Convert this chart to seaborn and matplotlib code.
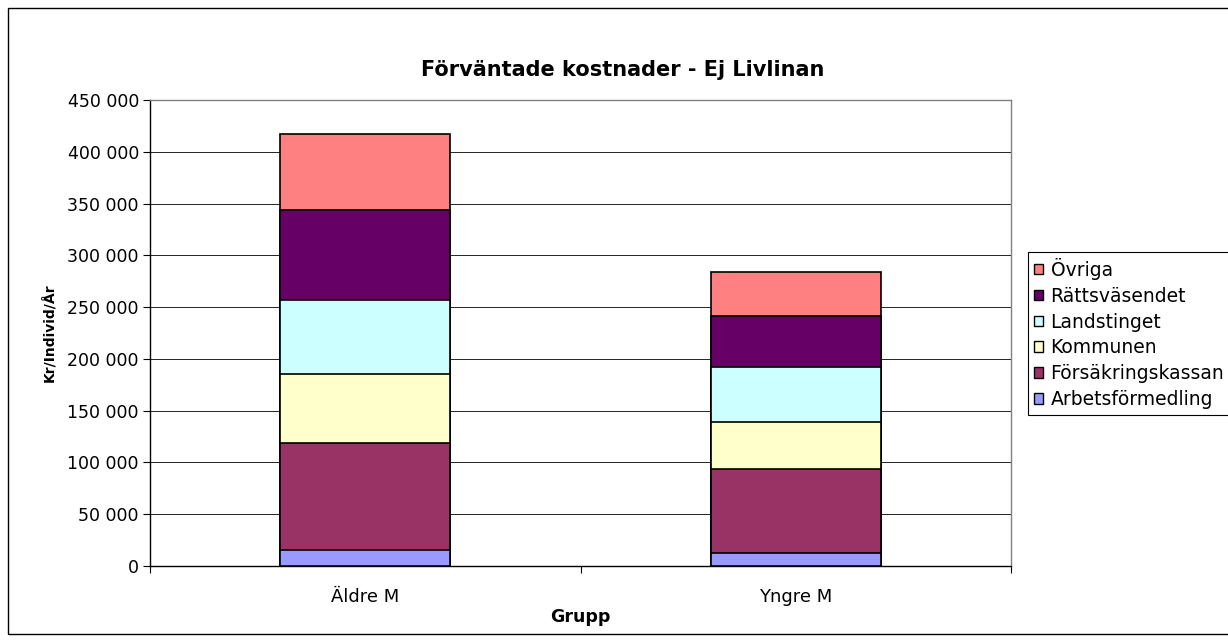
import matplotlib
matplotlib.use("Agg")
import matplotlib.pyplot as plt
from matplotlib.patches import Patch, Rectangle
from matplotlib.ticker import FuncFormatter, FixedLocator
import seaborn as sns
import numpy as np

# Expected costs per individual and year (kr), by group and payer
groups = ["Äldre M", "Yngre M"]
payers = ["Arbetsförmedling", "Försäkringskassan", "Kommunen",
          "Landstinget", "Rättsväsendet", "Övriga"]
arbetsformedling = [15700, 12300]
forsakringskassan = [102800, 81700]
kommunen = [66600, 44800]
landstinget = [71800, 53700]
rattsvasendet = [86900, 48900]
ovriga = [73100, 42500]
colors = ["#9999FF", "#993366", "#FFFFCC", "#CCFFFF", "#660066", "#FF8080"]
yticks = list(range(0, 450001, 50000))

series = [arbetsformedling, forsakringskassan, kommunen,
          landstinget, rattsvasendet, ovriga]

sns.set_theme(style="white")
plt.rcParams["font.family"] = ["DejaVu Sans"]
plt.rcParams.update({"text.color": "black", "axes.labelcolor": "black",
                     "xtick.color": "black", "ytick.color": "black"})

W, H = 1228, 642
fig = plt.figure(figsize=(W / 100, H / 100), dpi=100)
ax = fig.add_axes([150 / W, 1 - 566 / H, (1011 - 150) / W, (566 - 100) / H])

# Stacked bars: draw cumulative totals from the top layer downwards
cum = np.cumsum(np.array(series), axis=0)
for i in range(len(series) - 1, -1, -1):
    sns.barplot(x=groups, y=cum[i], color=colors[i], saturation=1,
                width=0.396, edgecolor="black", linewidth=1.2, ax=ax,
                zorder=3)

ax.set_xlim(-0.5, 1.5)
ax.set_ylim(0, 450000)
ax.yaxis.set_major_locator(FixedLocator(yticks))
ax.yaxis.set_major_formatter(
    FuncFormatter(lambda v, p: f"{int(v):,}".replace(",", " ")))
ax.grid(axis="y", color="black", linewidth=0.6, zorder=0)
ax.set_axisbelow(True)

# Category ticks sit between the groups
ax.set_xticks([0, 1])
ax.set_xticks([-0.5, 0.5, 1.5], minor=True)
ax.tick_params(axis="x", which="major", length=0, pad=16, labelsize=13)
ax.tick_params(axis="x", which="minor", length=5, width=0.8,
               color="black", direction="out", bottom=True)
ax.tick_params(axis="y", which="major", length=5, width=0.8,
               color="black", direction="out", left=True, pad=3,
               labelsize=12.5)

for side in ["left", "bottom"]:
    ax.spines[side].set_color("black")
    ax.spines[side].set_linewidth(1.0)
for side in ["right", "top"]:
    ax.spines[side].set_color("#808080")
    ax.spines[side].set_linewidth(1.0)

ax.set_xlabel("Grupp", fontsize=12.5, fontweight="bold", labelpad=1)
ax.set_ylabel("Kr/Individ/År", fontsize=10, fontweight="bold", labelpad=8)

fig.text(623 / W, 1 - 70 / H, "Förväntade kostnader - Ej Livlinan",
         ha="center", va="center", fontsize=15, fontweight="bold")

handles = [Patch(facecolor=c, edgecolor="black", linewidth=1.0)
           for c in colors]
leg = fig.legend(handles[::-1], payers[::-1], loc="upper left",
                 bbox_to_anchor=(1028 / W, 1 - 252 / H), fontsize=13.5,
                 frameon=True, fancybox=False, framealpha=1,
                 edgecolor="black", handlelength=0.5, handleheight=0.5,
                 handletextpad=0.4, labelspacing=0.37, borderpad=0.3,
                 borderaxespad=0)
leg.get_frame().set_linewidth(0.8)

# Outer chart frame
fig.patches.append(Rectangle((8 / W, 8 / H), (1260 - 8) / W, (634 - 8) / H,
                             transform=fig.transFigure, fill=False,
                             edgecolor="black", linewidth=1.0))

fig.savefig("out.png", dpi=100, facecolor="white")
